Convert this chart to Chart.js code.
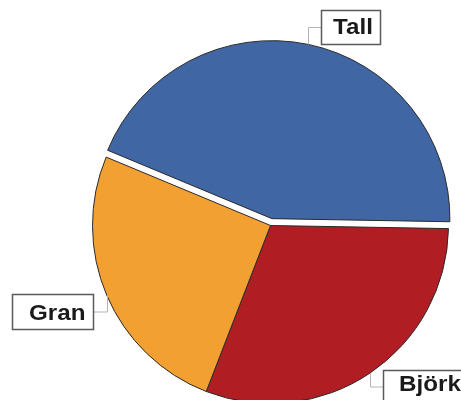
<!DOCTYPE html>
<html>
<head>
<meta charset="utf-8">
<script src="https://cdn.jsdelivr.net/npm/chart.js@4/dist/chart.umd.min.js"></script>
<style>
  html, body { margin: 0; padding: 0; background: #ffffff; }
  #c { display: block; }
</style>
</head>
<body>
<canvas id="c" width="461" height="400"></canvas>
<script>
// Data (clockwise order starting just below 3 o'clock)
const categories = ["Björk", "Gran", "Tall"];
const values = [30.6, 25.4, 44.0];
const sliceColors = ["#B01E24", "#F3A033", "#4166A4"];
const explodedIndex = 2;   // Tall
const explodeDistance = 7;

// Label box layout (style/position only)
const labelBoxes = [
  { box: [383, 370, 90, 35], anchor: [383, 387], textX: 399, baseline: 391 },
  { box: [12, 294, 81, 35], anchor: [93, 312], textX: 29, baseline: 319.5 },
  { box: [321, 10, 59, 34], anchor: [321, 27.5], textX: 333, baseline: 34.3 }
];

const explodePlugin = {
  id: 'explode',
  afterDatasetUpdate(chart, args) {
    const meta = chart.getDatasetMeta(args.index);
    const arc = meta.data[explodedIndex];
    if (!arc) return;
    const mid = (arc.startAngle + arc.endAngle) / 2;
    arc.x += Math.cos(mid) * explodeDistance;
    arc.y += Math.sin(mid) * explodeDistance;
  }
};

const labelPlugin = {
  id: 'boxLabels',
  afterDatasetsDraw(chart) {
    const ctx = chart.ctx;
    const meta = chart.getDatasetMeta(0);
    meta.data.forEach((arc, i) => {
      const spec = labelBoxes[i];
      const mid = (arc.startAngle + arc.endAngle) / 2;
      const px = arc.x + Math.cos(mid) * arc.outerRadius;
      const py = arc.y + Math.sin(mid) * arc.outerRadius;
      ctx.save();
      // leader line
      ctx.strokeStyle = '#b4b4b4';
      ctx.lineWidth = 1;
      ctx.beginPath();
      ctx.moveTo(spec.anchor[0], spec.anchor[1]);
      ctx.lineTo(Math.round(px) + 0.5, spec.anchor[1]);
      ctx.lineTo(Math.round(px) + 0.5, py);
      ctx.stroke();
      // box
      const [bx, by, bw, bh] = spec.box;
      ctx.fillStyle = '#ffffff';
      ctx.fillRect(bx, by, bw, bh);
      ctx.strokeStyle = '#5a5a5a';
      ctx.lineWidth = 1.5;
      ctx.strokeRect(bx + 0.5, by + 0.5, bw, bh);
      // text
      ctx.fillStyle = '#1a1a1a';
      ctx.font = 'bold 22px "Liberation Sans", Arial, sans-serif';
      ctx.textBaseline = 'alphabetic';
      ctx.textAlign = 'left';
      ctx.translate(spec.textX, spec.baseline);
      ctx.scale(1.1, 1);
      ctx.fillText(categories[i], 0, 0);
      ctx.restore();
    });
  }
};

new Chart(document.getElementById('c'), {
  type: 'pie',
  data: {
    labels: categories,
    datasets: [{
      data: values,
      backgroundColor: sliceColors,
      borderColor: '#2a2a2a',
      borderWidth: 1,
      clip: false
    }]
  },
  options: {
    responsive: false,
    devicePixelRatio: 1,
    animation: false,
    events: [],
    rotation: 91,
    radius: 178,
    layout: { padding: { left: 80, right: 0, top: 51, bottom: 0 } },
    plugins: {
      legend: { display: false },
      tooltip: { enabled: false }
    }
  },
  plugins: [explodePlugin, labelPlugin]
});
</script>
</body>
</html>
